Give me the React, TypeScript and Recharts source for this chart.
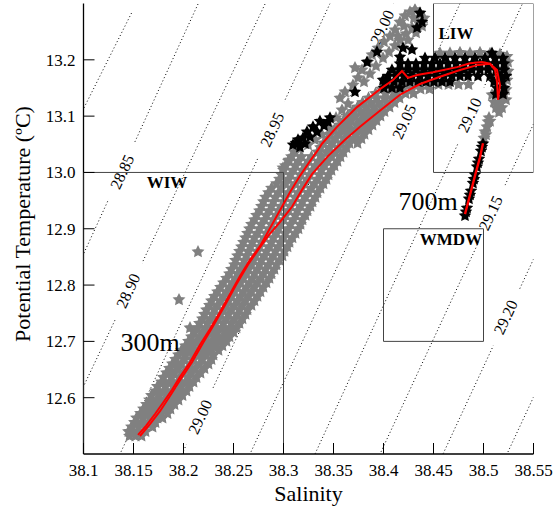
import React from 'react';
import { ScatterChart, Scatter, XAxis, YAxis } from 'recharts';

const SERIF = "'Liberation Serif', 'Times New Roman', Times, serif";

// axes
const salinityTicks = [38.1, 38.15, 38.2, 38.25, 38.3, 38.35, 38.4, 38.45, 38.5, 38.55];
const temperatureTicks = [12.6, 12.7, 12.8, 12.9, 13.0, 13.1, 13.2];
const xTitle = 'Salinity';
const yTitle = 'Potential Temperature (ºC)';

// sigma-theta isopycnals: where each dotted line enters / leaves the frame
const isoLevels = ['28.80', '28.85', '28.90', '28.95', '29.00', '29.05', '29.10', '29.15', '29.20', '29.25'];
const isoStart = [
  [38.148, 13.283], [38.2145, 13.299], [38.2815, 13.299], [38.3465, 13.3], [38.41, 13.3],
  [38.4765, 13.3], [38.5385, 13.298], [38.55, 13.086], [38.55, 12.846], [38.55, 12.601],
];
const isoEnd = [
  [38.1, 13.113], [38.1, 12.855], [38.1, 12.62], [38.1365, 12.5], [38.1985, 12.5],
  [38.2665, 12.5], [38.3315, 12.5], [38.3965, 12.5], [38.4595, 12.5], [38.5235, 12.5],
];
const isoLabels = ['28.85', '28.90', '28.95', '29.00', '29.00', '29.05', '29.10', '29.15', '29.20'];
const isoLabelAt = [
  [38.1385, 13.001], [38.1445, 12.79], [38.2885, 13.076], [38.3985, 13.258], [38.2165, 12.566],
  [38.4205, 13.09], [38.486, 13.102], [38.507, 12.928], [38.522, 12.743],
];

// water mass boxes
const boxNames = ['WIW', 'LIW', 'WMDW'];
const boxSal = [[38.1, 38.3], [38.45, 38.55], [38.4, 38.5]];
const boxTemp = [[12.5, 13.0], [13.0, 13.3], [12.7, 12.9]];
const boxLabelAt = [[38.1835, 12.983], [38.4725, 13.248], [38.4675, 12.882]];

const depthNames = ['300m', '700m'];
const depthAt = [[38.1665, 12.699], [38.4445, 12.949]];

// gray stars, row by row (temperature of the row, salinities in it)
const grayRowT = [
  12.532, 12.54, 12.548, 12.556, 12.564, 12.572, 12.58, 12.588, 12.596, 12.604,
  12.612, 12.62, 12.628, 12.636, 12.644, 12.652, 12.66, 12.668, 12.676, 12.684,
  12.692, 12.7, 12.708, 12.716, 12.724, 12.732, 12.74, 12.748, 12.756, 12.764,
  12.772, 12.78, 12.788, 12.796, 12.804, 12.812, 12.82, 12.828, 12.836, 12.844,
  12.852, 12.86, 12.868, 12.876, 12.884, 12.892, 12.9, 12.908, 12.916, 12.924,
  12.932, 12.94, 12.948, 12.956, 12.964, 12.972, 12.98, 12.988, 12.996, 13.004,
  13.012, 13.02, 13.028, 13.036, 13.044, 13.052, 13.06, 13.068, 13.076, 13.084,
  13.092, 13.1, 13.108, 13.116, 13.124, 13.132, 13.14, 13.148, 13.156,
];
const grayRowS = [
  [38.146, 38.152, 38.158],
  [38.145, 38.15, 38.156, 38.162],
  [38.148, 38.155, 38.162, 38.169],
  [38.151, 38.158, 38.165, 38.172],
  [38.153, 38.16, 38.167, 38.174, 38.179],
  [38.157, 38.164, 38.171, 38.178, 38.184],
  [38.16, 38.167, 38.174, 38.181, 38.187],
  [38.163, 38.17, 38.177, 38.184, 38.191],
  [38.166, 38.173, 38.181, 38.188, 38.195],
  [38.168, 38.176, 38.184, 38.192, 38.199],
  [38.172, 38.18, 38.188, 38.195, 38.203],
  [38.174, 38.182, 38.19, 38.198, 38.206],
  [38.178, 38.186, 38.194, 38.202, 38.21],
  [38.18, 38.188, 38.196, 38.205, 38.213],
  [38.183, 38.191, 38.2, 38.208, 38.217],
  [38.186, 38.195, 38.204, 38.212, 38.221],
  [38.189, 38.198, 38.207, 38.216, 38.225],
  [38.192, 38.201, 38.21, 38.219, 38.228],
  [38.195, 38.202, 38.209, 38.216, 38.223, 38.23],
  [38.198, 38.205, 38.212, 38.22, 38.227, 38.235],
  [38.202, 38.209, 38.217, 38.224, 38.231, 38.239],
  [38.205, 38.213, 38.22, 38.228, 38.235, 38.243],
  [38.208, 38.216, 38.223, 38.231, 38.239, 38.246],
  [38.211, 38.219, 38.227, 38.234, 38.242, 38.25],
  [38.214, 38.222, 38.23, 38.238, 38.246, 38.253],
  [38.216, 38.224, 38.232, 38.24, 38.248, 38.256],
  [38.219, 38.227, 38.235, 38.243, 38.251, 38.259],
  [38.221, 38.229, 38.237, 38.245, 38.254, 38.262],
  [38.223, 38.231, 38.24, 38.248, 38.256, 38.264],
  [38.226, 38.234, 38.243, 38.251, 38.259, 38.268],
  [38.228, 38.237, 38.245, 38.254, 38.262, 38.271],
  [38.231, 38.24, 38.248, 38.257, 38.265, 38.274],
  [38.234, 38.243, 38.251, 38.26, 38.268, 38.277],
  [38.237, 38.246, 38.254, 38.263, 38.271, 38.28],
  [38.24, 38.249, 38.257, 38.266, 38.274, 38.283],
  [38.243, 38.252, 38.26, 38.269, 38.277, 38.286],
  [38.246, 38.254, 38.263, 38.271, 38.28, 38.288],
  [38.248, 38.257, 38.265, 38.274, 38.282, 38.291],
  [38.251, 38.259, 38.268, 38.276, 38.285, 38.293],
  [38.252, 38.261, 38.27, 38.278, 38.287, 38.296],
  [38.254, 38.263, 38.272, 38.281, 38.29, 38.299],
  [38.256, 38.265, 38.274, 38.283, 38.292, 38.301],
  [38.258, 38.267, 38.276, 38.286, 38.295, 38.304],
  [38.26, 38.269, 38.278, 38.288, 38.297, 38.306],
  [38.262, 38.271, 38.281, 38.29, 38.3, 38.309],
  [38.264, 38.274, 38.283, 38.293, 38.302, 38.312],
  [38.266, 38.276, 38.286, 38.295, 38.305, 38.315],
  [38.268, 38.278, 38.288, 38.297, 38.307, 38.317],
  [38.271, 38.281, 38.29, 38.3, 38.31, 38.319],
  [38.273, 38.283, 38.293, 38.302, 38.312, 38.322],
  [38.276, 38.286, 38.295, 38.305, 38.314, 38.324],
  [38.278, 38.288, 38.298, 38.307, 38.317, 38.327],
  [38.28, 38.29, 38.3, 38.31, 38.319, 38.329],
  [38.282, 38.292, 38.302, 38.312, 38.322, 38.332],
  [38.285, 38.295, 38.305, 38.315, 38.325, 38.334],
  [38.288, 38.298, 38.308, 38.318, 38.328, 38.337],
  [38.293, 38.302, 38.312, 38.321, 38.331, 38.34],
  [38.296, 38.305, 38.315, 38.324, 38.334, 38.343],
  [38.298, 38.307, 38.317, 38.326, 38.336, 38.345],
  [38.3, 38.31, 38.319, 38.329, 38.338, 38.348],
  [38.302, 38.312, 38.322, 38.332, 38.341, 38.351],
  [38.305, 38.315, 38.325, 38.335, 38.344, 38.354],
  [38.308, 38.318, 38.328, 38.338, 38.348, 38.357],
  [38.311, 38.334, 38.343, 38.352, 38.36],
  [38.314, 38.337, 38.346, 38.355, 38.363],
  [38.34, 38.349, 38.358, 38.366, 38.374],
  [38.344, 38.352, 38.361, 38.37, 38.378],
  [38.347, 38.356, 38.364, 38.373, 38.381],
  [38.351, 38.36, 38.368, 38.377, 38.385],
  [38.356, 38.364, 38.373, 38.381, 38.389],
  [38.36, 38.368, 38.377, 38.385, 38.393],
  [38.364, 38.372, 38.381, 38.389, 38.397],
  [38.369, 38.377, 38.385, 38.393, 38.401],
  [38.374, 38.382, 38.39, 38.398, 38.406],
  [38.379, 38.387, 38.395, 38.403, 38.411],
  [38.385, 38.393, 38.401, 38.408, 38.416],
  [38.392, 38.402, 38.412, 38.422, 38.43],
  [38.398, 38.408, 38.418, 38.428, 38.437, 38.446],
  [38.405, 38.415, 38.425, 38.435, 38.445, 38.455, 38.465, 38.475, 38.485],
];
// loose gray stars: outliers, upper branch, LIW rim, hook, 700m tail
const grayLoose = [
  [38.1795, 12.626], [38.1885, 12.644], [38.1935, 12.662], [38.2015, 12.676], [38.2085, 12.694],
  [38.2145, 12.859], [38.1955, 12.774], [38.2065, 12.724],
  [38.2995, 13.008], [38.3055, 13.022], [38.3115, 13.036], [38.3245, 13.049], [38.3315, 13.058],
  [38.3385, 13.067], [38.3465, 13.079], [38.3525, 13.097], [38.3585, 13.111], [38.3645, 13.122],
  [38.3565, 13.132], [38.3615, 13.143], [38.3695, 13.155], [38.3745, 13.168], [38.3785, 13.182],
  [38.3715, 13.186], [38.3845, 13.196], [38.3885, 13.209], [38.3945, 13.221], [38.4005, 13.232],
  [38.4065, 13.242], [38.4115, 13.253], [38.4165, 13.267], [38.4215, 13.278], [38.4265, 13.285],
  [38.4315, 13.289], [38.4365, 13.283], [38.4345, 13.267], [38.4285, 13.257], [38.4225, 13.246],
  [38.4165, 13.235], [38.4115, 13.225], [38.4245, 13.235], [38.4325, 13.248], [38.4385, 13.26],
  [38.4405, 13.274], [38.4305, 13.274], [38.4205, 13.26], [38.4145, 13.242], [38.4055, 13.214],
  [38.3995, 13.203], [38.3925, 13.189], [38.3865, 13.175], [38.3805, 13.161],
  [38.4565, 13.212], [38.4665, 13.212], [38.4765, 13.213], [38.4865, 13.212], [38.4965, 13.213],
  [38.5065, 13.211], [38.5165, 13.21], [38.5235, 13.206],
  [38.5245, 13.196], [38.5245, 13.18], [38.5235, 13.164], [38.5225, 13.147],
  [38.5085, 13.138], [38.5145, 13.138], [38.5205, 13.138], [38.5105, 13.125], [38.5165, 13.125],
  [38.5225, 13.129], [38.5125, 13.115], [38.5185, 13.115], [38.5155, 13.107],
  [38.5005, 13.061], [38.5025, 13.067], [38.5015, 13.072], [38.5035, 13.081], [38.5045, 13.09],
  [38.5055, 13.097], [38.5065, 13.091],
];

// black stars: LIW core rows
const blackRowT = [13.203, 13.193, 13.182, 13.171, 13.161, 13.15, 13.139];
const blackRowS = [
  [38.4415, 38.4515, 38.4615, 38.4715, 38.4815, 38.4915, 38.5015, 38.5115, 38.5195],
  [38.4165, 38.4245, 38.4325, 38.4405, 38.4485, 38.4565, 38.4645, 38.4725, 38.4805, 38.4885, 38.4965, 38.5045, 38.5125, 38.5205],
  [38.4085, 38.4165, 38.4245, 38.4325, 38.4405, 38.4485, 38.4565, 38.4645, 38.4725, 38.4805, 38.4885, 38.4965, 38.5045, 38.5125, 38.5205],
  [38.4045, 38.4125, 38.4205, 38.4285, 38.4365, 38.4445, 38.4525, 38.4605, 38.4685, 38.4765, 38.4845, 38.4945, 38.5065, 38.5165, 38.5225],
  [38.4025, 38.4105, 38.4185, 38.4265, 38.4345, 38.4425, 38.4505, 38.4585, 38.4665, 38.5105, 38.5185],
  [38.4005, 38.4085, 38.4165, 38.5135, 38.5205],
  [38.5125, 38.5195],
];
const blackLoose = [
  [38.3095, 13.049], [38.3145, 13.058], [38.3195, 13.061], [38.3165, 13.045], [38.3235, 13.072],
  [38.3265, 13.063], [38.3295, 13.081], [38.3335, 13.072], [38.3365, 13.091], [38.3405, 13.083],
  [38.3445, 13.09], [38.3465, 13.097], [38.3125, 13.052], [38.3215, 13.051],
  [38.3715, 13.143], [38.3835, 13.196], [38.3935, 13.214], [38.4015, 13.161], [38.4195, 13.221],
  [38.4285, 13.218], [38.4165, 13.205], [38.4365, 13.283], [38.4385, 13.267], [38.4335, 13.257],
  [38.3995, 13.164], [38.5085, 13.212],
  [38.4815, 12.923], [38.4825, 12.93], [38.4835, 12.937], [38.4855, 12.953], [38.4865, 12.96],
  [38.4875, 12.967], [38.4895, 12.981], [38.4905, 12.988], [38.4915, 12.996], [38.4935, 13.01],
  [38.4945, 13.017], [38.4955, 13.024], [38.4975, 13.038], [38.4985, 13.045], [38.4995, 13.051],
];

// red profiles
const redUpper = [
  [38.1545, 12.534], [38.1625, 12.55], [38.1715, 12.571], [38.1795, 12.591], [38.1885, 12.614],
  [38.1965, 12.637], [38.2065, 12.663], [38.2165, 12.694], [38.2265, 12.722], [38.2365, 12.752],
  [38.2465, 12.784], [38.2565, 12.816], [38.2665, 12.845], [38.2765, 12.869], [38.2865, 12.901],
  [38.2965, 12.933], [38.3065, 12.965], [38.3165, 12.994], [38.3265, 13.02], [38.3345, 13.04],
  [38.3385, 13.051], [38.3535, 13.081], [38.3735, 13.116], [38.3865, 13.134], [38.3965, 13.148],
  [38.4095, 13.164], [38.4185, 13.18], [38.4245, 13.168], [38.4335, 13.173], [38.4495, 13.178],
  [38.4735, 13.187], [38.4865, 13.194], [38.4985, 13.196], [38.5065, 13.193], [38.5115, 13.182],
  [38.5135, 13.161], [38.5145, 13.129],
];
const redLower = [
  [38.1565, 12.532], [38.1665, 12.553], [38.1765, 12.576], [38.1865, 12.603], [38.1965, 12.631],
  [38.2085, 12.663], [38.2195, 12.697], [38.2295, 12.727], [38.2405, 12.761], [38.2525, 12.8],
  [38.2645, 12.836], [38.2745, 12.862], [38.2845, 12.887], [38.2965, 12.912], [38.3085, 12.939],
  [38.3185, 12.969], [38.3285, 12.997], [38.3445, 13.029], [38.3615, 13.058], [38.3765, 13.081],
  [38.3945, 13.107], [38.4165, 13.138], [38.4365, 13.157], [38.4565, 13.17], [38.4765, 13.182],
  [38.4945, 13.191], [38.5065, 13.193], [38.5135, 13.182], [38.5165, 13.155], [38.5145, 13.129],
];
const red700 = [[38.4815, 12.926], [38.4865, 12.96], [38.4925, 13.001], [38.4965, 13.027], [38.4995, 13.052]];

const pts = (a: number[][]) => a.map(([s, t]) => ({ s, t }));

const grayData = [
  ...grayRowT.flatMap((t, i) => grayRowS[i].map((s) => ({ s, t }))),
  ...pts(grayLoose),
];
const blackData = [
  ...blackRowT.flatMap((t, i) => blackRowS[i].map((s) => ({ s, t }))),
  ...pts(blackLoose),
];
const isoLines = isoLevels.map((lvl, i) => ({ lvl, data: pts([isoStart[i], isoEnd[i]]) }));
const isoLabelData = isoLabels.map((label, i) => ({ s: isoLabelAt[i][0], t: isoLabelAt[i][1], label }));
const boxes = boxNames.map((name, i) => {
  const [s1, s2] = boxSal[i];
  const [t1, t2] = boxTemp[i];
  return { name, data: pts([[s1, t1], [s2, t1], [s2, t2], [s1, t2], [s1, t1]]) };
});
const textMarks = [
  ...boxNames.map((text, i) => ({ s: boxLabelAt[i][0], t: boxLabelAt[i][1], text, size: 17, bold: true })),
  ...depthNames.map((text, i) => ({ s: depthAt[i][0], t: depthAt[i][1], text, size: 26, bold: false })),
];

const NoDot = () => <g />;

// five-pointed star marker
const starPath = (cx: number, cy: number, r: number) => {
  let d = '';
  for (let k = 0; k < 10; k++) {
    const rr = k % 2 ? r * 0.5 : r;
    const a = -Math.PI / 2 + (k * Math.PI) / 5;
    d += `${k ? 'L' : 'M'}${(cx + rr * Math.cos(a)).toFixed(2)},${(cy + rr * Math.sin(a)).toFixed(2)}`;
  }
  return d + 'Z';
};
const GrayStar = ({ cx, cy }: any) => (
  <path d={starPath(cx, cy, 5.2)} fill="#808080" stroke="#808080" strokeWidth={1.4} />
);
const BlackStar = ({ cx, cy }: any) => (
  <path d={starPath(cx, cy, 5)} fill="#000" stroke="#000" strokeWidth={1.4} />
);

const IsoLabel = (props: any) => {
  const { cx, cy, payload } = props;
  return (
    <g transform={`translate(${cx},${cy}) rotate(-65)`}>
      <rect x={-31} y={-9} width={62} height={18} fill="#fff" />
      <text x={0} y={0} dy="0.35em" textAnchor="middle" fontSize={16} fontFamily={SERIF} fill="#000">
        {payload.label}
      </text>
    </g>
  );
};

const TextMark = (props: any) => {
  const { cx, cy, payload } = props;
  return (
    <text x={cx} y={cy} dy="0.35em" textAnchor="middle" fontSize={payload.size} fontWeight={payload.bold ? 'bold' : 'normal'} fontFamily={SERIF} fill="#000">
      {payload.text}
    </text>
  );
};

const TICK = 11;
const BottomTick = ({ x, y, payload }: any) => (
  <g>
    <line x1={x} y1={y} x2={x} y2={y - TICK} stroke="#000" />
    <text x={x} y={y + 22} textAnchor="middle" fontSize={17} fontFamily={SERIF} fill="#000">{payload.value}</text>
  </g>
);
const LeftTick = ({ x, y, payload }: any) => (
  <g>
    <line x1={x} y1={y} x2={x + TICK} y2={y} stroke="#000" />
    <text x={x - 8} y={y} dy="0.35em" textAnchor="end" fontSize={17} fontFamily={SERIF} fill="#000">{Number(payload.value).toFixed(1)}</text>
  </g>
);
const TopTick = ({ x, y }: any) => <line x1={x} y1={y} x2={x} y2={y + TICK} stroke="#000" />;
const RightTick = ({ x, y }: any) => <line x1={x} y1={y} x2={x - TICK} y2={y} stroke="#000" />;

const frame = { stroke: '#000', strokeWidth: 1.3 };

export default function App() {
  return (
    <div style={{ position: 'absolute', left: 0, top: 0, width: 553, height: 510, background: '#fff' }}>
      <ScatterChart width={553} height={510} margin={{ top: 3.5, right: 19.5, bottom: 0, left: 0 }}>
        <XAxis
          type="number" dataKey="s" domain={[38.1, 38.55]} ticks={salinityTicks} allowDataOverflow
          height={56} tickSize={0} tickMargin={0} tickLine={false} interval={0} tick={BottomTick} axisLine={frame}
          label={{ content: () => <text x={308.5} y={501} textAnchor="middle" fontSize={22} fontFamily={SERIF} fill="#000">{xTitle}</text> }}
        />
        <XAxis
          xAxisId="top" orientation="top" type="number" dataKey="s" domain={[38.1, 38.55]} ticks={salinityTicks}
          allowDataOverflow height={0} tickSize={0} tickMargin={0} tickLine={false} interval={0} tick={TopTick} axisLine={frame}
        />
        <YAxis
          type="number" dataKey="t" domain={[12.5, 13.3]} ticks={temperatureTicks} allowDataOverflow
          width={83.5} tickSize={0} tickMargin={0} tickLine={false} interval={0} tick={LeftTick} axisLine={frame}
          label={{ content: () => <text x={22} y={224} transform="rotate(-90 22 224)" textAnchor="middle" dy="0.35em" fontSize={22} fontFamily={SERIF} fill="#000">{yTitle}</text> }}
        />
        <YAxis
          yAxisId="right" orientation="right" type="number" dataKey="t" domain={[12.5, 13.3]} ticks={temperatureTicks}
          allowDataOverflow width={0} tickSize={0} tickMargin={0} tickLine={false} interval={0} tick={RightTick} axisLine={frame}
        />

        {isoLines.map((l) => (
          <Scatter key={l.lvl} data={l.data} shape={NoDot} isAnimationActive={false}
            line={{ stroke: '#000', strokeWidth: 1, strokeDasharray: '1 2.5' }} />
        ))}
        <Scatter data={isoLabelData} shape={IsoLabel} isAnimationActive={false} />

        <Scatter data={grayData} shape={GrayStar} isAnimationActive={false} />

        {boxes.map((b) => (
          <Scatter key={b.name} data={b.data} shape={NoDot} isAnimationActive={false}
            line={{ stroke: '#444', strokeWidth: 1 }} />
        ))}

        <Scatter data={blackData} shape={BlackStar} isAnimationActive={false} />

        <Scatter data={pts(redUpper)} shape={NoDot} isAnimationActive={false} line={{ stroke: '#ff0000', strokeWidth: 2 }} />
        <Scatter data={pts(redLower)} shape={NoDot} isAnimationActive={false} line={{ stroke: '#ff0000', strokeWidth: 2 }} />
        <Scatter data={pts(red700)} shape={NoDot} isAnimationActive={false} line={{ stroke: '#ff0000', strokeWidth: 2.4 }} />

        <Scatter xAxisId="top" yAxisId="right" data={textMarks} shape={TextMark} isAnimationActive={false} />
      </ScatterChart>
    </div>
  );
}
